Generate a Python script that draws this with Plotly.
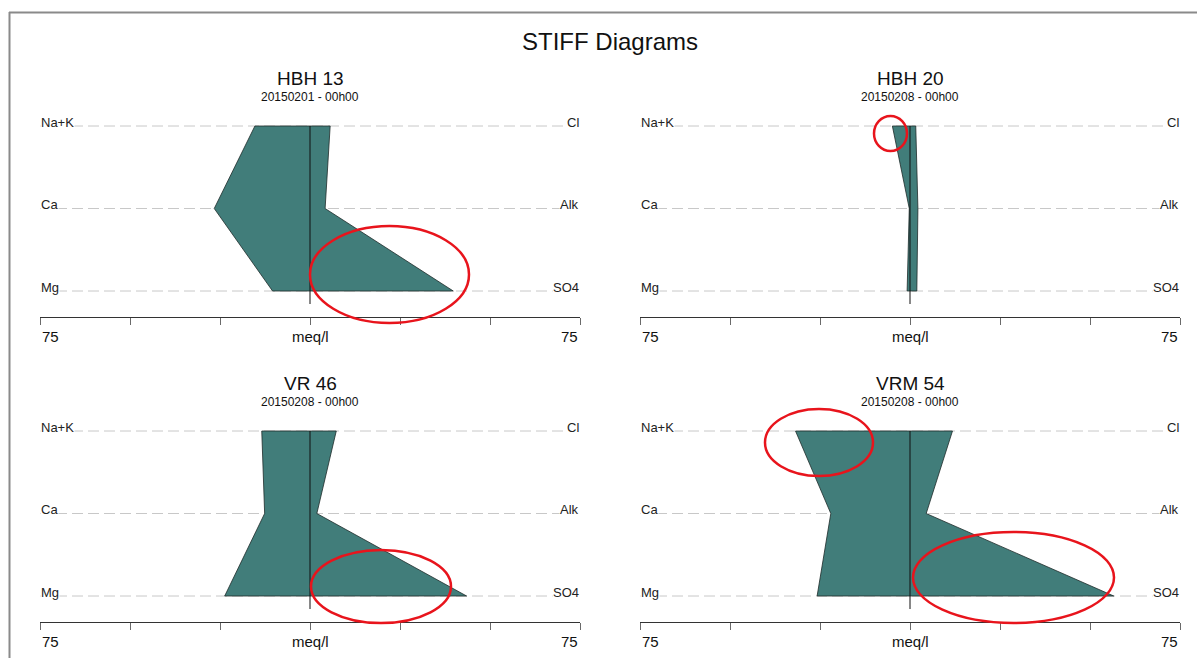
import plotly.graph_objects as go

# ---- data (meq/l) ----
cations = ["Na+K", "Ca", "Mg"]
anions = ["Cl", "Alk", "SO4"]

station_names = ["HBH 13", "HBH 20", "VR 46", "VRM 54"]
sample_dates = ["20150201 - 00h00", "20150208 - 00h00", "20150208 - 00h00", "20150208 - 00h00"]

hbh13_cations = [15.3, 26.6, 10.4]
hbh13_anions = [5.6, 4.2, 39.8]
hbh20_cations = [4.9, 0.2, 0.8]
hbh20_anions = [1.6, 2.2, 1.9]
vr46_cations = [13.4, 12.6, 23.7]
vr46_anions = [7.3, 1.9, 43.5]
vrm54_cations = [31.8, 22.0, 25.8]
vrm54_anions = [11.8, 4.5, 56.6]

scale_max = 75
tick_values = [-75, -50, -25, 0, 25, 50, 75]

cation_sets = [hbh13_cations, hbh20_cations, vr46_cations, vrm54_cations]
anion_sets = [hbh13_anions, hbh20_anions, vr46_anions, vrm54_anions]

# ---- page geometry (pixels) ----
W, H = 1197, 658
FONT = "Liberation Sans, Arial, sans-serif"
FILL = "#417d7a"
col_left = [40, 640]
col_width = 540
row_axis = [317, 622]
unit_px = 82.5          # vertical spacing of ion rows
mg_offset = 26          # Mg row above the axis line
panel_height = 217


def px(x):
    return x / W


def py(y):
    return 1 - y / H


fig = go.Figure()
annotations = []
shapes = []

for i, name in enumerate(station_names):
    col, row = i % 2, i // 2
    x0 = col_left[col]
    x1 = x0 + col_width
    xc = (x0 + x1) / 2
    axis_y = row_axis[row]
    ax = "" if i == 0 else str(i + 1)
    xref, yref = "x" + ax, "y" + ax

    y_low = -mg_offset / unit_px
    y_high = (panel_height - mg_offset) / unit_px

    fig.update_layout(**{
        "xaxis" + ax: dict(
            domain=[px(x0), px(x1)], range=[-scale_max, scale_max],
            anchor=yref, showgrid=False, zeroline=False,
            showline=True, linecolor="#333333", linewidth=1,
            ticks="outside", ticklen=7, tickcolor="#6a6a6a", tickwidth=1,
            tickvals=tick_values, showticklabels=False, fixedrange=True,
        ),
        "yaxis" + ax: dict(
            domain=[py(axis_y), py(axis_y - panel_height)],
            range=[y_low, y_high], anchor=xref, visible=False, fixedrange=True,
        ),
    })

    # dashed guide lines for each ion row
    for k in range(3):
        fig.add_trace(go.Scatter(
            x=[-scale_max, scale_max], y=[2 - k, 2 - k], mode="lines",
            line=dict(color="#c8c8c8", width=1, dash="11px,5px"),
            xaxis=xref, yaxis=yref, hoverinfo="skip", showlegend=False,
        ))

    # Stiff polygon: cations to the left, anions to the right
    cat = cation_sets[i]
    an = anion_sets[i]
    poly_x = [-cat[0], -cat[1], -cat[2], an[2], an[1], an[0], -cat[0]]
    poly_y = [2, 1, 0, 0, 1, 2, 2]
    fig.add_trace(go.Scatter(
        x=poly_x, y=poly_y, mode="lines", fill="toself", fillcolor=FILL,
        line=dict(color="#1e2b2a", width=0.8),
        xaxis=xref, yaxis=yref, showlegend=False,
    ))

    # zero line
    fig.add_trace(go.Scatter(
        x=[0, 0], y=[2, -13 / unit_px], mode="lines",
        line=dict(color="#111111", width=1),
        xaxis=xref, yaxis=yref, hoverinfo="skip", showlegend=False,
    ))

    # ion labels
    for k in range(3):
        line_py = axis_y - mg_offset - (2 - k) * unit_px
        annotations.append(dict(
            x=px(x0), y=py(line_py - 4), xref="paper", yref="paper",
            text=cations[k], showarrow=False, xanchor="left", yanchor="middle",
            font=dict(family=FONT, size=13, color="#222222"),
            bgcolor="white", borderpad=0,
        ))
        annotations.append(dict(
            x=px(x1), y=py(line_py - 4), xref="paper", yref="paper",
            text=anions[k], showarrow=False, xanchor="right", yanchor="middle",
            font=dict(family=FONT, size=13, color="#222222"),
            bgcolor="white", borderpad=0,
        ))

    # scale labels under the axis
    for txt, xx, anc in [(str(scale_max), x0, "left"), ("meq/l", xc, "center"),
                         (str(scale_max), x1, "right")]:
        annotations.append(dict(
            x=px(xx), y=py(axis_y + 19), xref="paper", yref="paper",
            text=txt, showarrow=False, xanchor=anc, yanchor="middle",
            font=dict(family=FONT, size=15, color="#111111"),
        ))

    # panel title and date
    title_top = axis_y - 239
    annotations.append(dict(
        x=px(xc), y=py(title_top), xref="paper", yref="paper",
        text=name, showarrow=False, xanchor="center", yanchor="middle",
        font=dict(family=FONT, size=19, color="#111111"),
    ))
    annotations.append(dict(
        x=px(xc), y=py(title_top + 19), xref="paper", yref="paper",
        text=sample_dates[i], showarrow=False, xanchor="center", yanchor="middle",
        font=dict(family=FONT, size=12, color="#111111"),
    ))

# main title
annotations.append(dict(
    x=px(610), y=py(41), xref="paper", yref="paper", text="STIFF Diagrams",
    showarrow=False, xanchor="center", yanchor="middle",
    font=dict(family=FONT, size=24, color="#111111"),
))

# page frame (top and left edges)
shapes.append(dict(type="line", xref="paper", yref="paper",
                   x0=px(9), x1=1, y0=py(12.5), y1=py(12.5),
                   line=dict(color="#8a8a8a", width=2)))
shapes.append(dict(type="line", xref="paper", yref="paper",
                   x0=px(9.5), x1=px(9.5), y0=py(12), y1=0,
                   line=dict(color="#8a8a8a", width=2)))

# red highlight ellipses (pixel boxes: left, top, right, bottom)
highlights = [
    (310, 226, 469, 323),
    (874, 116, 907, 151),
    (311, 550, 451, 623),
    (765, 409, 873, 476),
    (913, 532, 1114, 623),
]
for (l, t, r, b) in highlights:
    shapes.append(dict(type="circle", xref="paper", yref="paper",
                       x0=px(l), x1=px(r), y0=py(b), y1=py(t),
                       line=dict(color="#e8141c", width=2.5)))

fig.update_layout(
    width=W, height=H, margin=dict(l=0, r=0, t=0, b=0),
    paper_bgcolor="white", plot_bgcolor="white",
    showlegend=False, annotations=annotations, shapes=shapes,
)

fig.write_html("out.html", config={"displayModeBar": False})
